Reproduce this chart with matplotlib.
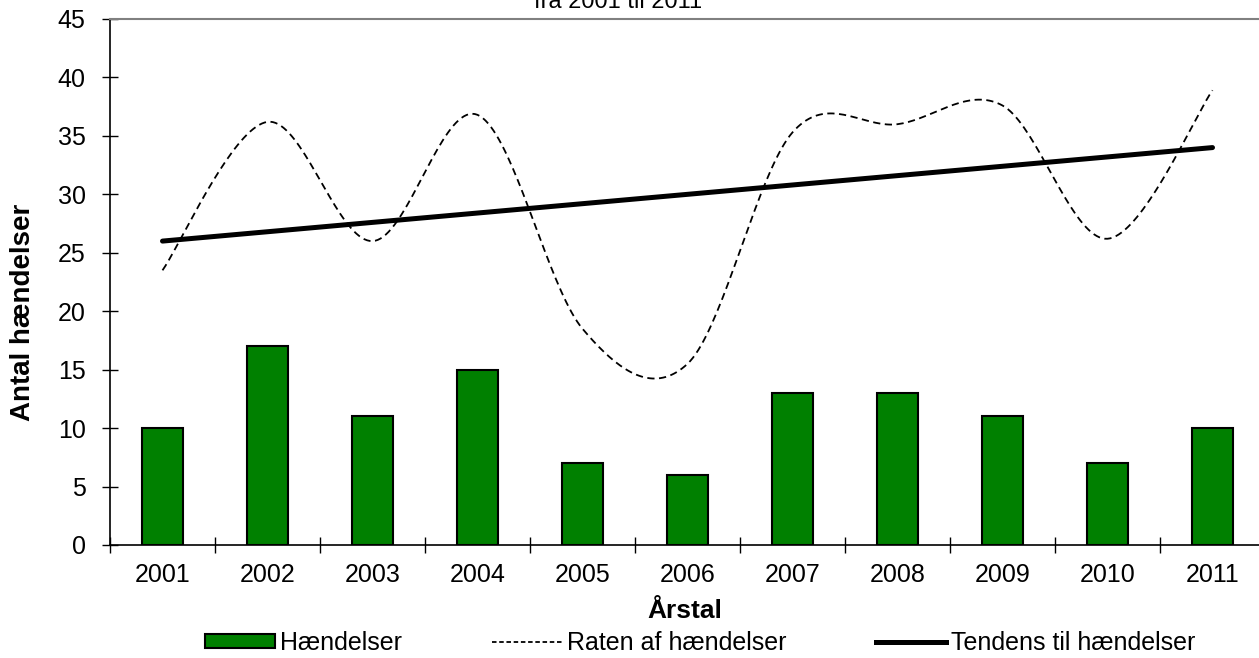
import numpy as np
import matplotlib
matplotlib.use('Agg')
from matplotlib import pyplot as plt
from matplotlib.patches import Patch
from matplotlib.lines import Line2D

plt.rcParams['font.family'] = ['Liberation Sans', 'DejaVu Sans']

years = ['2001', '2002', '2003', '2004', '2005', '2006', '2007', '2008', '2009', '2010', '2011']
haendelser = [10, 17, 11, 15, 7, 6, 13, 13, 11, 7, 10]
raten = [23.5, 36.2, 26.0, 36.8, 18.5, 15.5, 35.3, 36.0, 37.6, 26.2, 38.9]
tendens = [26.0, 34.0]  # trendlinjens endepunkter (2001 og 2011)


def smooth_curve(x, y, n=40):
    # udglattet linje som i Excel (Bezier gennem punkterne)
    pts = np.column_stack([x, y]).astype(float)
    P = np.vstack([pts[0], pts, pts[-1]])
    out = []
    t = np.linspace(0, 1, n)[:, None]
    for i in range(1, len(P) - 2):
        p0, p1, p2, p3 = P[i - 1], P[i], P[i + 1], P[i + 2]
        c1 = p1 + (p2 - p0) / 6
        c2 = p2 - (p3 - p1) / 6
        seg = (1 - t) ** 3 * p1 + 3 * (1 - t) ** 2 * t * c1 + 3 * (1 - t) * t ** 2 * c2 + t ** 3 * p2
        out.append(seg)
    return np.vstack(out)


fig = plt.figure(figsize=(12.59, 6.58), dpi=100)
ax = fig.add_axes([110 / 1259, 113 / 658, 1155 / 1259, 526 / 658])

x = np.arange(len(years))
ax.bar(x, haendelser, width=0.39, color='#008000', edgecolor='black', linewidth=1.5, zorder=2)

curve = smooth_curve(x, raten)
ax.plot(curve[:, 0], curve[:, 1], color='black', linewidth=1.3, dashes=(4, 2.5), zorder=3)
ax.plot([x[0], x[-1]], tendens, color='black', linewidth=3.6, solid_capstyle='round', zorder=4)

ax.set_xlim(-0.5, 10.5)
ax.set_ylim(0, 45)
ax.set_yticks(range(0, 46, 5))
ax.set_xticks(x)
ax.set_xticklabels(years)
ax.set_xticks(np.arange(-0.5, 10.6, 1), minor=True)
ax.tick_params(axis='x', which='major', length=0, labelsize=18, pad=13)
ax.tick_params(axis='x', which='minor', direction='inout', length=11, width=1)
ax.tick_params(axis='y', direction='inout', length=11, width=1, labelsize=18, pad=12)

ax.spines['right'].set_visible(False)
ax.spines['top'].set_color('#808080')
ax.spines['top'].set_linewidth(1.5)
ax.spines['left'].set_linewidth(1.2)
ax.spines['bottom'].set_linewidth(1.2)

fig.text(23 / 1259, 1 - 312 / 658, 'Antal hændelser', rotation=90, fontsize=20,
         fontweight='bold', ha='center', va='center')
fig.text(685 / 1259, 1 - 611 / 658, 'Årstal', fontsize=19, fontweight='bold',
         ha='center', va='center')
fig.text(618 / 1259, 1 - 8 / 658, 'fra 2001 til 2011', fontsize=17, ha='center', va='baseline')

handles = [
    Patch(facecolor='#008000', edgecolor='black', linewidth=1.5),
    Line2D([], [], color='black', linewidth=1.3, dashes=(2.5, 1.5)),
    Line2D([], [], color='black', linewidth=3.6),
]
labels = ['Hændelser', 'Raten af hændelser', 'Tendens til hændelser']
fig.legend(handles, labels, loc='center', bbox_to_anchor=(700 / 1259, 1 - 643 / 658), ncol=3,
           frameon=False, fontsize=18, handlelength=2.8, handleheight=0.45, handletextpad=0.2,
           columnspacing=3.6, borderpad=0)

fig.savefig('out.png', dpi=100)
